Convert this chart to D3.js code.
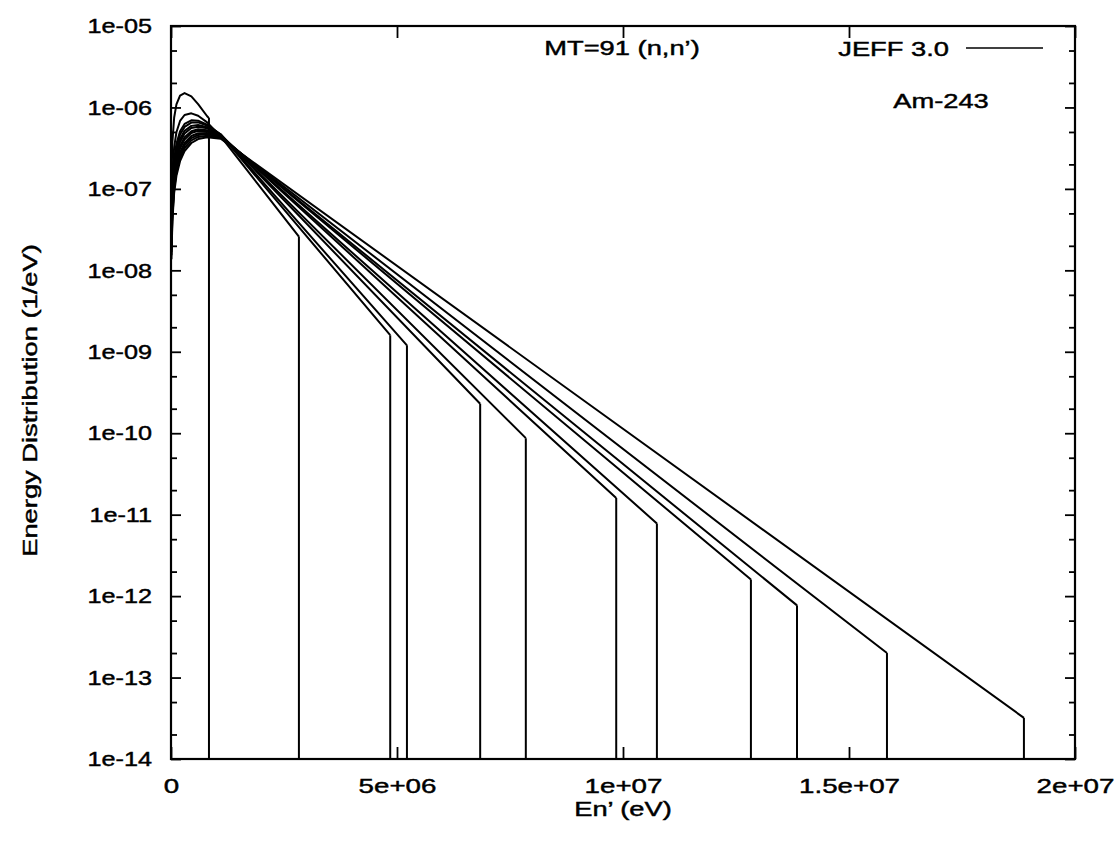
<!DOCTYPE html>
<html>
<head>
<meta charset="utf-8">
<script src="https://cdn.jsdelivr.net/npm/d3@7"></script>
<style>
  html, body { margin: 0; padding: 0; background: #fff; }
  svg { display: block; }
  text { font-family: "Liberation Sans", Arial, sans-serif; fill: #000; stroke: #000; stroke-width: 0.45px; }
</style>
</head>
<body>
<svg id="chart" width="1120" height="847"></svg>
<script>
// ---------------- DATA ----------------
const xTickValues = [0, 5e6, 1e7, 1.5e7, 2e7];
const xTickLabels = ["0", "5e+06", "1e+07", "1.5e+07", "2e+07"];
const yTickValues = [1e-14, 1e-13, 1e-12, 1e-11, 1e-10, 1e-9, 1e-8, 1e-7, 1e-6, 1e-5];
const yTickLabels = ["1e-14", "1e-13", "1e-12", "1e-11", "1e-10", "1e-09", "1e-08", "1e-07", "1e-06", "1e-05"];

// outgoing energies (eV) at which the low-energy part of each curve is read
const lowEnergyGrid = [1e4, 3e4, 7e4, 1.2e5, 2e5, 3e5, 4.5e5, 6e5, 8e5, 1.1e6];

// each curve: values on lowEnergyGrid (1/eV); the last point is the cutoff below
const curve01 = [1.31e-7, 3.69e-7, 7.53e-7, 1.09e-6, 1.40e-6, 1.50e-6, 1.37e-6, 1.10e-6, 7.8e-7];
const curve02 = [5.37e-8, 1.54e-7, 3.26e-7, 4.96e-7, 6.83e-7, 8.08e-7, 8.47e-7, 7.91e-7, 6.55e-7, 4.41e-7];
const curve03 = [3.73e-8, 1.08e-7, 2.32e-7, 3.59e-7, 5.10e-7, 6.27e-7, 6.96e-7, 6.88e-7, 6.15e-7, 4.64e-7];
const curve04 = [3.32e-8, 9.60e-8, 2.08e-7, 3.24e-7, 4.64e-7, 5.77e-7, 6.52e-7, 6.55e-7, 5.99e-7, 4.67e-7];
const curve05 = [2.86e-8, 8.28e-8, 1.80e-7, 2.83e-7, 4.10e-7, 5.16e-7, 5.94e-7, 6.09e-7, 5.72e-7, 4.65e-7];
const curve06 = [2.59e-8, 7.50e-8, 1.64e-7, 2.58e-7, 3.77e-7, 4.78e-7, 5.59e-7, 5.80e-7, 5.54e-7, 4.62e-7];
const curve07 = [2.26e-8, 6.57e-8, 1.44e-7, 2.28e-7, 3.36e-7, 4.31e-7, 5.11e-7, 5.39e-7, 5.26e-7, 4.53e-7];
const curve08 = [2.08e-8, 6.05e-8, 1.33e-7, 2.12e-7, 3.13e-7, 4.05e-7, 4.85e-7, 5.17e-7, 5.11e-7, 4.49e-7];
const curve09 = [1.82e-8, 5.32e-8, 1.18e-7, 1.88e-7, 2.80e-7, 3.66e-7, 4.46e-7, 4.82e-7, 4.87e-7, 4.42e-7];
const curve10 = [1.68e-8, 4.91e-8, 1.09e-7, 1.74e-7, 2.61e-7, 3.43e-7, 4.21e-7, 4.59e-7, 4.69e-7, 4.32e-7];
const curve11 = [1.53e-8, 4.47e-8, 9.92e-8, 1.60e-7, 2.40e-7, 3.18e-7, 3.94e-7, 4.35e-7, 4.50e-7, 4.23e-7];
const curve12 = [1.37e-8, 4.02e-8, 8.96e-8, 1.45e-7, 2.19e-7, 2.92e-7, 3.66e-7, 4.09e-7, 4.30e-7, 4.13e-7];

// maximum outgoing energy of each curve and the value there
const cutoffEnergy = [0.84e6, 2.83e6, 4.85e6, 5.22e6, 6.84e6, 7.85e6, 9.85e6, 10.75e6, 12.83e6, 13.85e6, 15.84e6, 18.87e6];
const cutoffValue  = [7.4e-7, 2.6e-8, 1.6e-9, 1.2e-9, 2.3e-10, 8.7e-11, 1.6e-11, 7.8e-12, 1.6e-12, 7.7e-13, 2.0e-13, 3.2e-14];

const curveValues = [curve01, curve02, curve03, curve04, curve05, curve06,
                     curve07, curve08, curve09, curve10, curve11, curve12];

// ---------------- LAYOUT ----------------
const L = 171, R = 1075, T = 26, B = 759;
const svg = d3.select("#chart");

const x = d3.scaleLinear().domain([0, 2e7]).range([L, R]);
const y = d3.scaleLog().domain([1e-14, 1e-5]).range([B, T]);

const FONT = 21;
function stretchText(k) {
  return sel => sel.each(function () {
    const len = this.getComputedTextLength();
    if (len > 0) {
      d3.select(this).attr("textLength", len * k).attr("lengthAdjust", "spacingAndGlyphs");
    }
  });
}

// minor y ticks (2 and 5 of each decade)
const yMinor = [];
yTickValues.slice(0, -1).forEach(v => { yMinor.push(2 * v, 5 * v); });

// ---------------- CURVES ----------------
const line = d3.line().x(d => x(d[0])).y(d => y(d[1]));
svg.append("clipPath").attr("id", "clip").append("rect")
   .attr("x", L).attr("y", T).attr("width", R - L).attr("height", B - T);
const plot = svg.append("g").attr("clip-path", "url(#clip)");

curveValues.forEach((vals, i) => {
  const pts = vals.map((v, j) => [lowEnergyGrid[j], v]);
  pts.push([cutoffEnergy[i], cutoffValue[i]]);
  plot.append("path")
      .attr("d", line(pts))
      .attr("fill", "none").attr("stroke", "#000").attr("stroke-width", 2)
      .attr("stroke-linejoin", "round");
  // vertical drop at the cutoff energy down to the axis
  plot.append("line")
      .attr("x1", x(cutoffEnergy[i])).attr("x2", x(cutoffEnergy[i]))
      .attr("y1", y(cutoffValue[i])).attr("y2", y(y.domain()[0]))
      .attr("stroke", "#000").attr("stroke-width", 2);
});

// ---------------- AXES ----------------
function styleAxis(g) {
  g.select(".domain").remove();
  g.selectAll(".tick line").attr("stroke", "#000").attr("stroke-width", 1.8);
}

svg.append("g").attr("transform", `translate(${L},0)`)
   .call(d3.axisLeft(y).tickValues(yTickValues).tickFormat((d, i) => yTickLabels[i])
         .tickSizeInner(-10).tickSizeOuter(0).tickPadding(19))
   .call(styleAxis)
   .call(g => g.selectAll("text").attr("font-size", FONT).call(stretchText(1.2)));
svg.append("g").attr("transform", `translate(${L},0)`)
   .call(d3.axisLeft(y).tickValues(yMinor).tickFormat("").tickSizeInner(-6).tickSizeOuter(0))
   .call(styleAxis);
svg.append("g").attr("transform", `translate(${R},0)`)
   .call(d3.axisRight(y).tickValues(yTickValues).tickFormat("").tickSizeInner(-10).tickSizeOuter(0))
   .call(styleAxis);
svg.append("g").attr("transform", `translate(${R},0)`)
   .call(d3.axisRight(y).tickValues(yMinor).tickFormat("").tickSizeInner(-6).tickSizeOuter(0))
   .call(styleAxis);

svg.append("g").attr("transform", `translate(0,${B})`)
   .call(d3.axisBottom(x).tickValues(xTickValues).tickFormat((d, i) => xTickLabels[i])
         .tickSizeInner(-12).tickSizeOuter(0).tickPadding(19))
   .call(styleAxis)
   .call(g => g.selectAll("text").attr("font-size", FONT).call(stretchText(1.32)));
svg.append("g").attr("transform", `translate(0,${T})`)
   .call(d3.axisTop(x).tickValues(xTickValues).tickFormat("").tickSizeInner(-12).tickSizeOuter(0))
   .call(styleAxis);

// frame
svg.append("rect").attr("x", L).attr("y", T).attr("width", R - L).attr("height", B - T)
   .attr("fill", "none").attr("stroke", "#000").attr("stroke-width", 2.2);

// ---------------- LABELS ----------------
svg.append("text").attr("x", 623).attr("y", 816).attr("text-anchor", "middle")
   .attr("font-size", FONT).text("En\u2019 (eV)").call(stretchText(1.3));
svg.append("text").attr("transform", `translate(37,${(T + B) / 2 + 8}) rotate(-90)`)
   .attr("text-anchor", "middle").attr("font-size", FONT)
   .text("Energy Distribution (1/eV)").call(stretchText(1.3));

svg.append("text").attr("x", 622).attr("y", 55).attr("text-anchor", "middle")
   .attr("font-size", FONT).text("MT=91 (n,n\u2019)").call(stretchText(1.3));

svg.append("text").attr("x", 949).attr("y", 56).attr("text-anchor", "end")
   .attr("font-size", FONT).text("JEFF 3.0").call(stretchText(1.3));
svg.append("line").attr("x1", 966).attr("x2", 1043).attr("y1", 48).attr("y2", 48)
   .attr("stroke", "#000").attr("stroke-width", 1.6);
svg.append("text").attr("x", 941).attr("y", 108).attr("text-anchor", "middle")
   .attr("font-size", FONT).text("Am-243").call(stretchText(1.3));
</script>
</body>
</html>
